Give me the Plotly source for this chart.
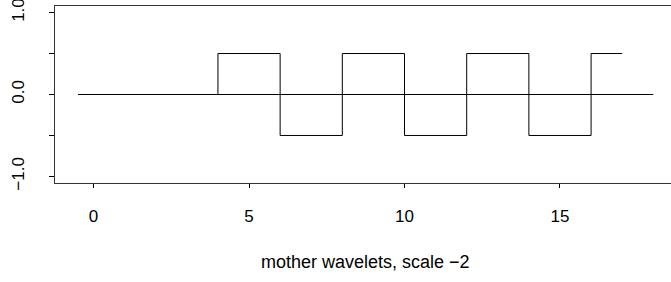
import plotly.graph_objects as go

# Data
zero_x = [-0.5, 18]
zero_y = [0, 0]
wave_x = [4, 4, 6, 8, 10, 12, 14, 16, 17]
wave_y = [0, 0.5, -0.5, 0.5, -0.5, 0.5, -0.5, 0.5, 0.5]
x_ticks = [0, 5, 10, 15]
x_tick_labels = ["0", "5", "10", "15"]
y_ticks = [-1.0, -0.5, 0.0, 0.5, 1.0]
y_tick_labels = ["\u22121.0", "", "0.0", "", "1.0"]
x_title = "mother wavelets, scale \u22122"

FONT = "Liberation Sans, Arial, Helvetica, sans-serif"

fig = go.Figure()
fig.add_trace(go.Scatter(x=zero_x, y=zero_y, mode="lines",
                         line=dict(color="black", width=1), hoverinfo="skip"))
fig.add_trace(go.Scatter(x=wave_x, y=wave_y, mode="lines",
                         line=dict(color="black", width=1, shape="hv"), hoverinfo="skip"))

fig.update_layout(
    width=671, height=282,
    margin=dict(l=55, r=0, t=6, b=99, autoexpand=False),
    paper_bgcolor="white", plot_bgcolor="white",
    showlegend=False,
    font=dict(family=FONT, size=17, color="black"),
)
fig.update_xaxes(
    range=[-1.24, 18.57], showgrid=False, zeroline=False, automargin=False,
    showline=True, mirror=True, linecolor="#333", linewidth=1,
    ticks="outside", ticklen=4, tickcolor="black", tickwidth=1,
    tickvals=x_ticks, ticktext=x_tick_labels, ticklabelstandoff=14,
    ticklabeloverflow="allow",
)
fig.update_yaxes(
    range=[-1.08, 1.08], showgrid=False, zeroline=False, automargin=False,
    showline=True, mirror=False, linecolor="#333", linewidth=1,
    ticks="outside", ticklen=5, tickcolor="black", tickwidth=1,
    tickvals=y_ticks, ticktext=y_tick_labels, tickangle=-90,
    ticklabelstandoff=18, ticklabeloverflow="allow",
)
fig.add_annotation(x=8.75, xref="x", y=(282 - 99 - 262) / (282 - 99 - 6), yref="paper",
                   text=x_title, showarrow=False, font=dict(size=18, family=FONT),
                   xanchor="center", yanchor="middle")

fig.write_html(
    "out.html",
    config={"displayModeBar": False, "staticPlot": True},
    post_script="document.body.style.margin='0';document.body.style.overflow='hidden';",
)
